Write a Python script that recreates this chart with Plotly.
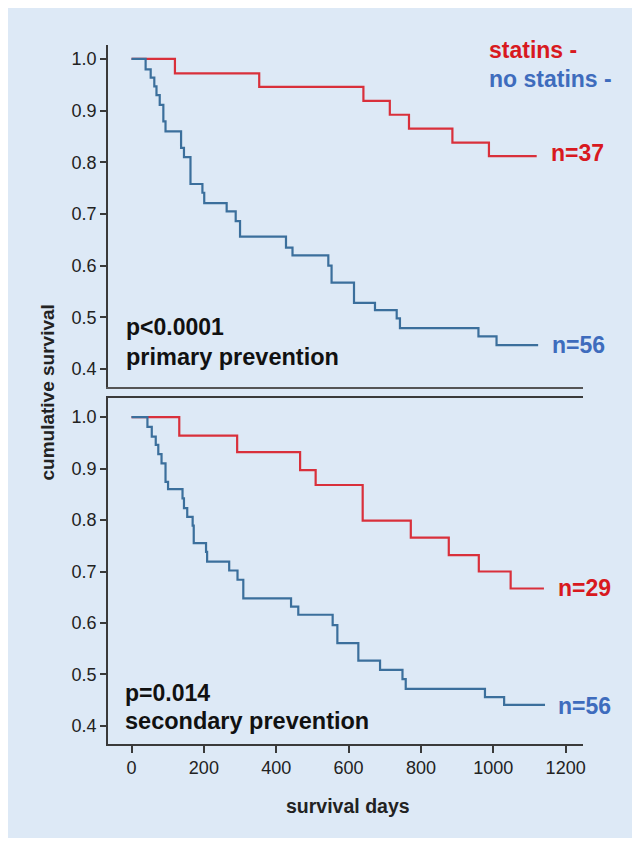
import plotly.graph_objects as go

# ---------------- data ----------------
top_statins_days = [0, 120, 353, 641, 714, 767, 887, 988, 1120]
top_statins_surv = [1.0, 0.972, 0.946, 0.919, 0.892, 0.865, 0.838, 0.812, 0.812]

top_nostatins_days = [0, 39, 53, 63, 69, 78, 88, 94, 137, 145, 163, 196, 201, 263, 288, 300,
                      427, 445, 544, 553, 615, 673, 733, 742, 959, 1009, 1124]
top_nostatins_surv = [1.0, 0.980, 0.964, 0.947, 0.930, 0.911, 0.879, 0.860, 0.828, 0.810, 0.758,
                      0.741, 0.721, 0.705, 0.686, 0.656, 0.635, 0.620, 0.600, 0.567, 0.528, 0.514,
                      0.498, 0.479, 0.463, 0.446, 0.446]

bot_statins_days = [0, 132, 292, 466, 509, 639, 772, 877, 960, 1048, 1140]
bot_statins_surv = [1.0, 0.964, 0.932, 0.897, 0.868, 0.799, 0.766, 0.732, 0.700, 0.667, 0.667]

bot_nostatins_days = [0, 44, 56, 67, 74, 83, 94, 101, 141, 145, 154, 169, 172, 206, 209, 270, 293,
                      309, 441, 461, 556, 569, 627, 687, 749, 758, 977, 1030, 1143]
bot_nostatins_surv = [1.0, 0.981, 0.962, 0.946, 0.928, 0.910, 0.874, 0.860, 0.842, 0.823, 0.806,
                      0.789, 0.755, 0.738, 0.719, 0.702, 0.684, 0.648, 0.632, 0.616, 0.596, 0.561,
                      0.527, 0.509, 0.491, 0.472, 0.456, 0.441, 0.441]

x_ticks = [0, 200, 400, 600, 800, 1000, 1200]
y_ticks = [0.4, 0.5, 0.6, 0.7, 0.8, 0.9, 1.0]
y_tick_labels = ["0.4", "0.5", "0.6", "0.7", "0.8", "0.9", "1.0"]

# ---------------- style ----------------
RED_LINE = "#d9303b"
BLUE_LINE = "#3b6f9c"
RED_TEXT = "#d81920"
BLUE_TEXT = "#3e6cbd"
BG = "#dde9f6"
AXIS = "#3a3a3a"
FONT = "Liberation Sans"

# page body has an 8px margin; figure is sized/positioned to compensate
W, H = 633, 837
L, T = 100, 37
PW, PH = 475, 699
R, B = W - L - PW, H - T - PH

fig = go.Figure()

def curve(x, y, color, xa, ya):
    fig.add_trace(go.Scatter(x=x, y=y, mode="lines", line=dict(color=color, width=2.2, shape="hv"),
                             xaxis=xa, yaxis=ya, showlegend=False, hoverinfo="skip"))

curve(top_statins_days, top_statins_surv, RED_LINE, "x2", "y2")
curve(top_nostatins_days, top_nostatins_surv, BLUE_LINE, "x2", "y2")
curve(bot_statins_days, bot_statins_surv, RED_LINE, "x", "y")
curve(bot_nostatins_days, bot_nostatins_surv, BLUE_LINE, "x", "y")

XR = [-65, 1248]
tickfont = dict(family=FONT, size=18, color="#222222")

fig.update_layout(
    width=W, height=H,
    paper_bgcolor="white", plot_bgcolor=BG,
    margin=dict(l=L, r=R, t=T, b=B, pad=0),
    xaxis=dict(domain=[0, 1], range=XR, anchor="y", showline=True, mirror=True, linecolor=AXIS,
               linewidth=1.5, ticks="outside", ticklen=7, tickwidth=1.5, tickcolor=AXIS,
               tickvals=x_ticks, showgrid=False, zeroline=False, tickfont=tickfont),
    yaxis=dict(domain=[0, 0.495], range=[0.365, 1.037], anchor="x", showline=True, linecolor=AXIS,
               linewidth=1.5, ticks="outside", ticklen=6, tickwidth=1.5, tickcolor=AXIS,
               tickvals=y_ticks, ticktext=y_tick_labels, showgrid=False, zeroline=False,
               tickfont=tickfont),
    xaxis2=dict(domain=[0, 1], range=XR, anchor="y2", showline=True, linecolor="#555555",
                linewidth=1.5, ticks="", showticklabels=False, showgrid=False, zeroline=False),
    yaxis2=dict(domain=[0.5107, 1], range=[0.365, 1.027], anchor="x2", showline=True,
                linecolor=AXIS, linewidth=1.5, ticks="outside", ticklen=6, tickwidth=1.5,
                tickcolor=AXIS, tickvals=y_ticks, ticktext=y_tick_labels, showgrid=False,
                zeroline=False, tickfont=tickfont),
    shapes=[dict(type="rect", xref="paper", yref="paper", layer="below",
                 x0=(-1 - L) / PW, x1=(624 - L) / PW,
                 y0=(T + PH - 830) / PH, y1=(T + PH + 1) / PH,
                 fillcolor=BG, line=dict(width=0))],
)

def ann(text, x, y, xa, ya, color, size=23, bold=True, xanchor="left", angle=0):
    fig.add_annotation(text=f"<b>{text}</b>" if bold else text, x=x, y=y, xref=xa, yref=ya,
                       xanchor=xanchor, yanchor="middle", showarrow=False, textangle=angle,
                       font=dict(family=FONT, size=size, color=color))

ann("statins -", 983, 1.017, "x2", "y2", RED_TEXT)
ann("no statins -", 983, 0.961, "x2", "y2", BLUE_TEXT)
ann("n=37", 1154, 0.818, "x2", "y2", RED_TEXT)
ann("n=56", 1157, 0.446, "x2", "y2", BLUE_TEXT)
ann("p<0.0001", -20, 0.481, "x2", "y2", "#111111")
ann("primary prevention", -20, 0.423, "x2", "y2", "#111111", size=23.5)

ann("n=29", 1174, 0.668, "x", "y", RED_TEXT)
ann("n=56", 1174, 0.439, "x", "y", BLUE_TEXT)
ann("p=0.014", -24, 0.464, "x", "y", "#111111")
ann("secondary prevention", -24, 0.41, "x", "y", "#111111", size=23.5)

# paper-pixel helpers (page coords -> paper fraction)
def px(xp):
    return (xp - 8 - L) / PW

def py(yp):
    return (T + PH - (yp - 8)) / PH

ann("survival days", px(348), py(806), "paper", "paper", "#222222", size=19.5, xanchor="center")
ann("cumulative survival", px(47.5), py(393), "paper", "paper", "#222222", size=19,
    xanchor="center", angle=-90)

fig.write_html("out.html")
